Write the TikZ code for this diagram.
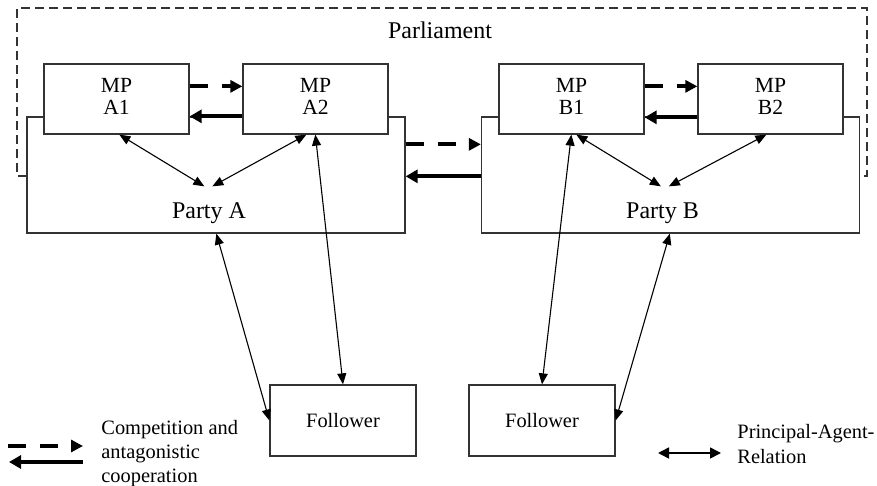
\documentclass[tikz,border=0pt]{standalone}
\usepackage{fontspec}
\setmainfont{Liberation Serif}
\usetikzlibrary{arrows.meta,calc}
\begin{document}
\begin{tikzpicture}[x=0.5pt,y=-0.5pt,
  box/.style={draw=black!80, line width=0.65pt, fill=white, inner sep=0pt},
  mpbox/.style={box, minimum width=72.5pt, minimum height=35pt, align=center,
    font=\fontsize{10.8}{11}\selectfont, text depth=3pt},
  partybox/.style={box, minimum width=189pt, minimum height=58pt},
  folbox/.style={box, minimum width=73pt, minimum height=35.5pt, font=\fontsize{10.2}{12}\selectfont},
  lbl/.style={inner sep=0pt, font=\fontsize{12}{14}\selectfont},
  legtxt/.style={inner sep=0pt, align=left},
  parl/.style={draw=black!80, line width=0.6pt, dash pattern=on 4.5pt off 2.5pt},
  cmp/.style={line width=2pt, dash pattern=on 9pt off 7pt, -{Triangle[length=6pt,width=6pt]}},
  coop/.style={line width=2pt, -{Triangle[length=6pt,width=6.5pt]}},
  pa/.style={line width=0.55pt, {Triangle[length=5.5pt,width=4.5pt]}-{Triangle[length=5.5pt,width=4.5pt]}},
  palg/.style={line width=0.8pt, {Triangle[length=5.5pt,width=5.5pt]}-{Triangle[length=5.5pt,width=5.5pt]}}
]
\useasboundingbox (0,0) rectangle (877,486);

% Parliament frame
\draw[parl] (27,176) -- (17,176) -- (17,8) -- (867,8) -- (867,176) -- (860,176);
\node[lbl, anchor=base] (parliament) at (440,39) {Parliament};

% Parties
\node[partybox] (PA) at (216,175) {};
\node[partybox] (PB) at (670.5,175) {};
\node[lbl, anchor=base] (PAl) at (209,219) {Party A};
\node[lbl, anchor=base] (PBl) at (662.5,219) {Party B};

% MPs
\node[mpbox] (A1) at (116.5,99) {MP\\A1};
\node[mpbox] (A2) at (315.5,99) {MP\\A2};
\node[mpbox] (B1) at (571.5,99) {MP\\B1};
\node[mpbox] (B2) at (770.5,99) {MP\\B2};

% Followers
\node[folbox] (FA) at (343,420.5) {Follower};
\node[folbox] (FB) at (542,420.5) {Follower};

% Competition / cooperation arrows
\draw[cmp] ($(A1.north east)+(0,23)$) -- ($(A2.north west)+(0,23)$);
\draw[coop] ($(A2.north west)+(0,53)$) -- ($(A1.north east)+(0,53)$);
\draw[cmp] ($(B1.north east)+(0,23)$) -- ($(B2.north west)+(0,23)$);
\draw[coop] ($(B2.north west)+(0,54)$) -- ($(B1.north east)+(0,54)$);
\draw[cmp] ($(PA.north east)+(0,28)$) -- ($(PB.north west)+(0,28)$);
\draw[coop] ($(PB.north west)+(0,60)$) -- ($(PA.north east)+(0,60)$);

% Principal-agent relations
\draw[pa] ($(A1.south west)+(76,0)$) -- ($(PA.north west)+(178,70)$);
\draw[pa] ($(A2.south west)+(64,0)$) -- ($(PA.north west)+(186,70)$);
\draw[pa] ($(A2.south west)+(73,0)$) -- (FA.north);
\draw[pa] ($(PA.south west)+(190,0)$) -- (FA.west);
\draw[pa] ($(B1.south west)+(73,0)$) -- (FB.north);
\draw[pa] ($(B1.south west)+(78,0)$) -- ($(PB.north west)+(180,70)$);
\draw[pa] ($(B2.south west)+(69,0)$) -- ($(PB.north west)+(188,70)$);
\draw[pa] ($(PB.south west)+(189,0)$) -- (FB.east);

% Legend
\coordinate (L1) at (8,446);
\coordinate (L2) at (83,446);
\coordinate (L3) at (83,462);
\coordinate (L4) at (9,462);
\draw[cmp] (L1) -- (L2);
\draw[coop] (L3) -- (L4);
\node[legtxt, anchor=north west, font=\fontsize{10.2}{12}\selectfont] (legC) at (101,419.5) {Competition and\\antagonistic\\cooperation};

\coordinate (P1) at (658,453);
\coordinate (P2) at (721,453);
\draw[palg] (P1) -- (P2);
\node[legtxt, anchor=north west, font=\fontsize{10.2}{12.5}\selectfont] (legP) at (737,423.5) {Principal-Agent-\\Relation};
\end{tikzpicture}
\end{document}
